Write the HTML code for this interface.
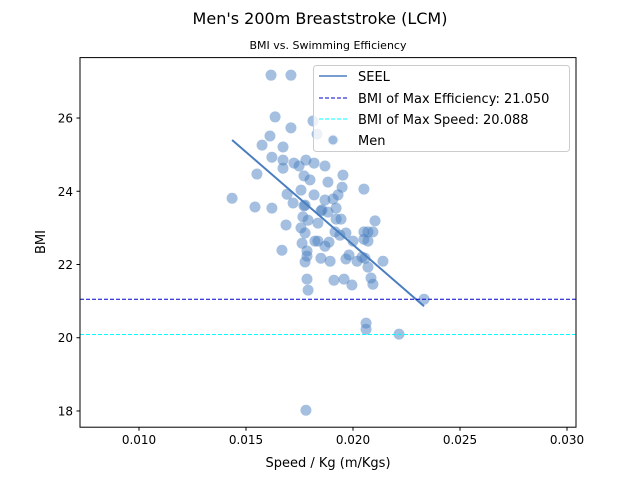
<!DOCTYPE html>
<html><head><meta charset="utf-8"><style>
body{margin:0;background:#fff;}
svg text{font-family:"DejaVu Sans","Liberation Sans",sans-serif;fill:#000;}
</style></head><body>
<svg id="chart" width="640" height="480" viewBox="0 0 640 480" xmlns="http://www.w3.org/2000/svg">
<rect width="640" height="480" fill="#fff"/>
<text x="320" y="24" font-size="16" text-anchor="middle">Men's 200m Breaststroke (LCM)</text>
<text x="328" y="49" font-size="11" text-anchor="middle">BMI vs. Swimming Efficiency</text>
<g id="plot"></g>
<text x="328" y="467" font-size="13" text-anchor="middle">Speed / Kg (m/Kgs)</text>
<text transform="translate(45,242) rotate(-90)" font-size="13" text-anchor="middle">BMI</text>
</svg>
<script>
const speedValues=[0.01617,0.01710,0.01636,0.01710,0.01813,0.01832,0.01907,0.01612,0.01575,0.01673,0.01621,0.01673,0.01724,0.01748,0.01780,0.01818,0.01869,0.01673,0.01551,0.01771,0.01799,0.01883,0.01953,0.01949,0.02051,0.01757,0.01692,0.01818,0.01907,0.01930,0.01435,0.01542,0.01621,0.01720,0.01771,0.01869,0.01855,0.01921,0.01883,0.02103,0.01687,0.01776,0.01850,0.01766,0.01790,0.01836,0.01944,0.01921,0.01757,0.01776,0.01916,0.01967,0.01939,0.02051,0.02070,0.02093,0.02051,0.02070,0.02000,0.01822,0.01836,0.01888,0.01762,0.01869,0.01668,0.01785,0.01785,0.01776,0.01850,0.01893,0.01981,0.01967,0.02019,0.02042,0.02056,0.02140,0.02070,0.01785,0.01911,0.01958,0.01995,0.02084,0.02093,0.01790,0.02332,0.02061,0.02061,0.02215,0.01780];
const bmiValues=[27.17,27.17,26.03,25.73,25.92,25.56,25.40,25.51,25.26,25.21,24.93,24.85,24.77,24.69,24.85,24.77,24.69,24.63,24.47,24.42,24.31,24.25,24.44,24.11,24.06,24.03,23.92,23.90,23.79,23.90,23.81,23.57,23.54,23.68,23.60,23.76,23.49,23.54,23.43,23.19,23.08,23.62,23.46,23.30,23.21,23.13,23.24,23.24,23.00,22.86,22.89,22.86,22.80,22.89,22.89,22.89,22.69,22.64,22.64,22.64,22.64,22.61,22.58,22.50,22.39,22.37,22.23,22.07,22.17,22.09,22.26,22.15,22.09,22.20,22.17,22.09,21.93,21.60,21.57,21.60,21.44,21.63,21.46,21.30,21.05,20.40,20.23,20.10,18.02];
const seelX=[0.01435,0.02332];
const seelY=[25.40,20.86];
const maxEffBmi=21.050;
const maxSpeedBmi=20.088;
const xTicks=[0.010,0.015,0.020,0.025,0.030];
const xTickLabels=["0.010","0.015","0.020","0.025","0.030"];
const yTicks=[18,20,22,24,26];
const yTickLabels=["18","20","22","24","26"];

const L=80,R=576,T=57.6,B=427.2;
const X0=0.007243,X1=0.03042,Y0=17.557,Y1=27.65;
const sx=v=>L+(v-X0)/(X1-X0)*(R-L);
const sy=v=>B-(v-Y0)/(Y1-Y0)*(B-T);
const NS="http://www.w3.org/2000/svg";
const plot=document.getElementById('plot');
function mk(tag,attrs,parent){const e=document.createElementNS(NS,tag);for(const k in attrs)e.setAttribute(k,attrs[k]);(parent||plot).appendChild(e);return e;}

// points
speedValues.forEach((v,i)=>{
  const c=mk('circle',{cx:sx(v),cy:sy(bmiValues[i]),r:5.5,fill:'#4a7fc0','fill-opacity':0.5});
  
  
});
// SEEL line
const sl=mk('line',{x1:sx(seelX[0]),y1:sy(seelY[0]),x2:sx(seelX[1]),y2:sy(seelY[1]),stroke:'#4a7ebf','stroke-width':2});


const h1=mk('line',{x1:L,x2:R,y1:sy(maxEffBmi),y2:sy(maxEffBmi),stroke:'#0000cc','stroke-width':1,'stroke-dasharray':'4,2'});


const h2=mk('line',{x1:L,x2:R,y1:sy(maxSpeedBmi),y2:sy(maxSpeedBmi),stroke:'#00ffff','stroke-width':1,'stroke-dasharray':'4,2'});



// axes frame
const fr=mk('rect',{x:L,y:T,width:R-L,height:B-T,fill:'none',stroke:'#000','stroke-width':1});


xTicks.forEach((v,i)=>{
  const t=mk('line',{x1:sx(v),x2:sx(v),y1:B,y2:B+3.5,stroke:'#000'});
  
  
  const tx=mk('text',{x:sx(v),y:B+17,'font-size':12,'text-anchor':'middle'});
  tx.textContent=xTickLabels[i];
  
  
});
yTicks.forEach((v,i)=>{
  const t=mk('line',{x1:L-3.5,x2:L,y1:sy(v),y2:sy(v),stroke:'#000'});
  
  
  const tx=mk('text',{x:L-7,y:sy(v)+4.5,'font-size':12,'text-anchor':'end'});
  tx.textContent=yTickLabels[i];
  
  
});

// legend
const lg=mk('g',{});


mk('rect',{x:313.5,y:65.5,width:256,height:86,rx:3,fill:'#fff','fill-opacity':0.8,stroke:'#ccc'},lg);
const entries=[
 {n:'legend-seel',t:'SEEL',y:76},
 {n:'legend-max-efficiency',t:'BMI of Max Efficiency: 21.050',y:98},
 {n:'legend-max-speed',t:'BMI of Max Speed: 20.088',y:119},
 {n:'legend-men',t:'Men',y:140}];
mk('line',{x1:319,x2:347,y1:76,y2:76,stroke:'#4a7ebf','stroke-width':1.5},lg);
mk('line',{x1:319,x2:347,y1:98,y2:98,stroke:'#0000cc','stroke-dasharray':'4,2'},lg);
mk('line',{x1:319,x2:347,y1:119,y2:119,stroke:'#00ffff','stroke-dasharray':'4,2'},lg);
mk('circle',{cx:333,cy:140,r:4.5,fill:'#4a7fc0','fill-opacity':0.5},lg);
entries.forEach(e=>{
  const tx=mk('text',{x:358,y:e.y+5,'font-size':13},lg);
  tx.textContent=e.t;
  
  
});
</script>
</body></html>
